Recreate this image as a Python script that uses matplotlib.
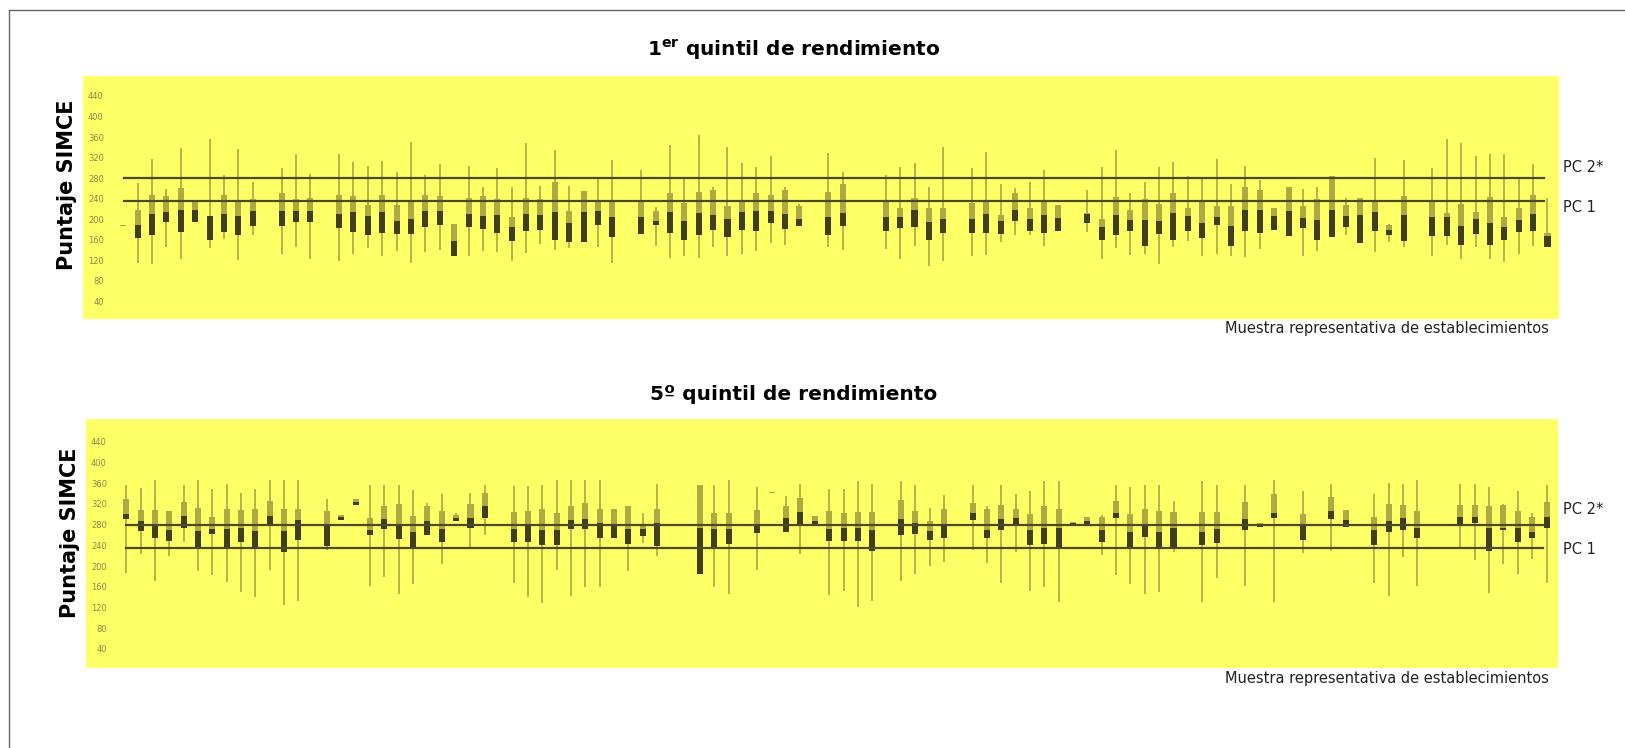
import numpy as np
import matplotlib
matplotlib.use("Agg")
import matplotlib.pyplot as plt
from matplotlib.lines import Line2D

plt.rcParams["font.family"] = ["DejaVu Sans"]
plt.rcParams["mathtext.fontset"] = "dejavusans"

N = None

# ---- 1st performance quintile: whisker low, Q1, median, Q3, whisker high per school ----
low_q1 = [N, 115, 113, 146, 122, N, 143, 161, 120, 169, N, 131, 146, 122, N, 118, 131, 143, 128, 137,
          115, 135, 140, N, 127, 137, 135, 118, 133, 151, 139, 143, N, 146, 115, N, N, 148, 124, 127,
          124, 145, 127, 132, 137, 153, 150, N, N, 145, 140, N, N, 142, 122, 148, 109, 119, N, 128,
          129, 156, 169, 169, 148, N, N, 174, 122, 143, 130, 132, 112, 145, 158, 127, 132, 128, 126, 141,
          N, N, 127, 137, N, 169, N, 135, 155, 145, N, 127, 150, 122, 145, 122, 116, 132, 148, N]
q1_q1 = [186, 163, 169, 194, 174, 194, 159, 174, 168, 187, N, 187, 194, 194, N, 182, 174, 168, 172, 171,
         170, 185, 189, 127, 185, 181, 172, 158, 176, 179, 159, 156, 155, 189, 165, N, 171, 189, 172, 159,
         168, 179, 164, 179, 177, 192, 181, 187, N, 169, 187, N, N, 177, 182, 185, 159, 172, N, 172,
         172, 171, 197, 177, 172, 177, N, 192, 159, 168, 176, 148, 171, 159, 176, 163, 189, 148, 176, 172,
         178, 167, 182, 159, 164, 185, 154, 177, 168, 158, N, 166, 166, 150, 171, 150, 159, 174, 176, 146]
med_q1 = [187, 188, 210, 213, 217, 217, 205, 210, 206, 215, N, 215, 215, 215, N, 210, 213, 205, 213, 197,
          200, 215, 215, 158, 210, 205, 208, 184, 210, 208, 213, 192, 213, 216, 204, N, 204, 197, 213, 197,
          211, 207, 200, 213, 216, 216, 209, 200, N, 204, 211, N, N, 204, 204, 217, 194, 200, N, 200,
          210, 196, 217, 200, 208, 202, N, 210, 184, 208, 198, 198, 196, 211, 205, 193, 204, 187, 217, 217,
          205, 215, 202, 198, 217, 206, 208, 213, 178, 207, N, 204, 204, 187, 200, 192, 185, 198, 209, 166]
q3_q1 = [188, 218, 247, 244, 260, 237, 206, 247, 237, 239, N, 250, 239, 242, N, 247, 245, 228, 247, 228,
         234, 247, 245, 191, 242, 245, 239, 204, 242, 239, 272, 215, 254, 237, 237, N, 237, 216, 250, 231,
         252, 256, 226, 233, 250, 246, 257, 226, N, 252, 269, N, N, 236, 222, 241, 222, 221, N, 231,
         237, 207, 250, 222, 234, 228, N, 211, 200, 243, 217, 239, 230, 250, 222, 234, 226, 226, 263, 257,
         222, 263, 226, 239, 284, 228, 242, 236, 189, 244, N, 233, 211, 229, 213, 243, 203, 221, 247, 172]
high_q1 = [N, 270, 317, 259, 339, N, 356, 286, 336, 272, N, 299, 327, 287, N, 327, 312, 304, 314, 291,
           350, 286, 307, N, 304, 263, 300, 263, 348, 265, 334, 265, N, 282, 315, N, 296, 224, 344, 280,
           364, 263, 340, 310, 302, 323, 262, 229, N, 328, 291, N, N, 286, 301, 310, 262, 340, N, 300,
           330, 269, 260, 272, 295, N, N, 256, 302, 334, 250, 273, 301, 311, 284, 278, 317, 269, 304, 276,
           N, N, 258, 263, N, 241, N, 319, 191, 315, N, 299, 356, 348, 322, 326, 327, 278, 307, 242]

# ---- 5th performance quintile ----
low_q5 = [186, 223, 172, 219, 247, 191, 183, 170, 149, 140, 192, 124, 133, N, 231, N, N, 162, 178, 146,
          165, N, 204, N, 237, 260, N, 168, 141, 128, 192, 142, 159, 160, N, 191, 244, 219, N, N,
          N, 160, 146, N, 192, N, N, 223, N, 144, 152, 120, 133, N, 172, 185, 200, 207, N, 230,
          205, 168, 228, 151, 160, 130, N, N, 221, 183, 165, 146, 149, 228, N, 130, 176, N, 162, N,
          131, N, 226, N, 229, N, N, 167, 142, 218, 162, N, N, 237, 212, 147, 203, 184, 213, 168]
q1_q5 = [291, 268, 255, 249, 273, 234, 261, 234, 247, 234, 279, 228, 250, N, 239, 288, 317, 259, 271, 252,
         237, 260, 246, 287, 273, 292, N, 247, 246, 241, 241, 272, 272, 255, 254, 242, 258, 239, N, N,
         185, 236, 242, N, 263, 341, 266, 281, 279, 249, 249, 249, 229, N, 259, 261, 250, 255, N, 289,
         255, 270, 278, 241, 242, 237, 281, 281, 247, 292, 236, 257, 236, 236, N, 241, 244, N, 270, 275,
         292, N, 250, N, 291, 275, N, 241, 266, 270, 255, N, N, 278, 283, 229, 270, 246, 255, 273]
med_q5 = [301, 286, 278, 270, 297, 268, 271, 271, 273, 268, 297, 268, 289, N, 281, 294, 323, 270, 290, 279,
          265, 286, 271, 293, 293, 316, N, 272, 279, 270, 270, 289, 291, 283, 281, 271, 271, 283, N, N,
          273, 271, 271, N, 279, 342, 292, 305, 286, 271, 273, 273, 270, N, 291, 283, 268, 278, N, 302,
          270, 290, 292, 270, 273, 273, 283, 286, 270, 302, 265, 278, 265, 274, N, 265, 272, N, 290, 279,
          302, N, 277, N, 307, 289, N, 270, 286, 292, 273, N, N, 295, 295, 273, 273, 274, 266, 295]
q3_q5 = [329, 308, 308, 307, 324, 313, 294, 311, 308, 310, 326, 310, 310, N, 306, 298, 329, 292, 316, 320,
         297, 316, 307, 299, 320, 342, N, 304, 306, 311, 302, 316, 322, 311, 311, 315, 281, 311, N, N,
         356, 302, 302, N, 308, 343, 316, 332, 297, 307, 302, 305, 304, N, 328, 307, 286, 311, N, 322,
         310, 317, 310, 300, 316, 311, 285, 294, 295, 326, 300, 311, 307, 304, N, 304, 304, N, 324, 284,
         339, N, 300, N, 333, 308, N, 295, 320, 318, 307, N, N, 317, 317, 316, 318, 306, 294, 324]
high_q5 = [356, 350, 366, N, 356, 366, 348, 358, 342, 348, 366, 366, 366, N, 329, N, N, 356, 356, 356,
           346, 322, 340, 302, 342, 356, N, 355, 355, 356, 366, 366, 366, 366, N, N, 303, 358, N, N,
           N, 356, 366, N, 353, N, 336, 358, N, 348, 348, 365, 358, N, 365, 356, 313, 337, N, 356,
           315, 356, 340, 344, 365, 365, N, N, 299, 356, 352, 356, 356, 326, N, 365, 356, N, 356, N,
           366, N, 345, N, 358, N, N, 340, 360, 358, 366, N, N, 358, 358, 353, 320, 345, 303, 356]

y_ticks = [40, 80, 120, 160, 200, 240, 280, 320, 360, 400, 440]
pc_levels = [235, 280]
pc_labels = ["PC 1", "PC 2*"]
panel_titles = [r"1$^{\mathbf{er}}$ quintil de rendimiento", "5º quintil de rendimiento"]
y_label = "Puntaje SIMCE"
x_label = "Muestra representativa de establecimientos"

YELLOW = "#FFFF66"
LIGHT = "#AFA944"
DARK = "#3F3F1F"
WHISK = "#B2AC46"
PCLINE = "#4A4A24"
TICKC = "#8A8A4E"

W, H = 1625, 748
fig = plt.figure(figsize=(W / 100, H / 100), dpi=100)


def arr(v):
    return np.array([np.nan if x is None else x for x in v], dtype=float)


def px_axes(x0, y0, x1, y1):
    return fig.add_axes([x0 / W, 1 - y1 / H, (x1 - x0) / W, (y1 - y0) / H])


panels = [
    dict(box=(83, 76, 1559, 319), ylim=(5, 479), data=(low_q1, q1_q1, med_q1, q3_q1, high_q1),
         title_y=50, ylab_y=185, lab_y=(207, 168)),
    dict(box=(86, 419, 1558, 668), ylim=(3, 484), data=(low_q5, q1_q5, med_q5, q3_q5, high_q5),
         title_y=395, ylab_y=533, lab_y=(550, 510)),
]

for k, p in enumerate(panels):
    ax = px_axes(*p["box"])
    ax.set_facecolor(YELLOW)
    for s in ax.spines.values():
        s.set_visible(False)
    lo, q1, md, q3, hi = [arr(v) for v in p["data"]]
    x = np.arange(len(q1))
    ax.set_xlim(-2.8, 99.8)
    ax.set_ylim(*p["ylim"])

    # whiskers
    ok = ~np.isnan(lo) & ~np.isnan(hi)
    ax.vlines(x[ok], lo[ok], hi[ok], color=WHISK, lw=1.3, zorder=2)
    okl = ~np.isnan(lo) & np.isnan(hi)
    ax.vlines(x[okl], lo[okl], q1[okl], color=WHISK, lw=1.3, zorder=2)
    okh = np.isnan(lo) & ~np.isnan(hi)
    ax.vlines(x[okh], q3[okh], hi[okh], color=WHISK, lw=1.3, zorder=2)

    bw = 0.42
    # upper half of the box (median to Q3) and lower half (Q1 to median)
    ax.bar(x, q3 - md, bottom=md, width=bw, color=LIGHT, zorder=3, linewidth=0)
    ax.bar(x, md - q1, bottom=q1, width=bw, color=DARK, zorder=3, linewidth=0)

    for lvl in pc_levels:
        ax.axhline(lvl, xmin=0.0275, xmax=0.99, color=PCLINE, lw=1.6, zorder=4)

    ax.set_xticks([])
    ax.set_yticks(y_ticks)
    ax.set_yticklabels([str(t) for t in y_ticks], color=TICKC, fontsize=6)
    ax.tick_params(axis="y", length=0, pad=-15)

    x0, y0, x1, y1 = p["box"]
    fig.text(794 / W, 1 - p["title_y"] / H, panel_titles[k], ha="center", va="center",
             fontsize=14.5, fontweight="bold")
    fig.text((x0 - 16) / W, 1 - p["ylab_y"] / H, y_label, rotation=90, ha="center", va="center",
             fontsize=15, fontweight="bold")
    fig.text(1549 / W, 1 - (y1 + 10) / H, x_label, ha="right", va="center", fontsize=10.5,
             color="#222222")
    for lab, yy in zip(pc_labels, p["lab_y"]):
        fig.text(1563 / W, 1 - yy / H, lab, ha="left", va="center", fontsize=10.5, color="#222222")

# outer frame (top and left edges)
fig.add_artist(Line2D([8.5 / W, 1.0], [1 - 10 / H, 1 - 10 / H], color="#666666", lw=1.0))
fig.add_artist(Line2D([8.5 / W, 8.5 / W], [1 - 10 / H, 0.0], color="#666666", lw=1.0))

fig.savefig("out.png", dpi=100, facecolor="white")
